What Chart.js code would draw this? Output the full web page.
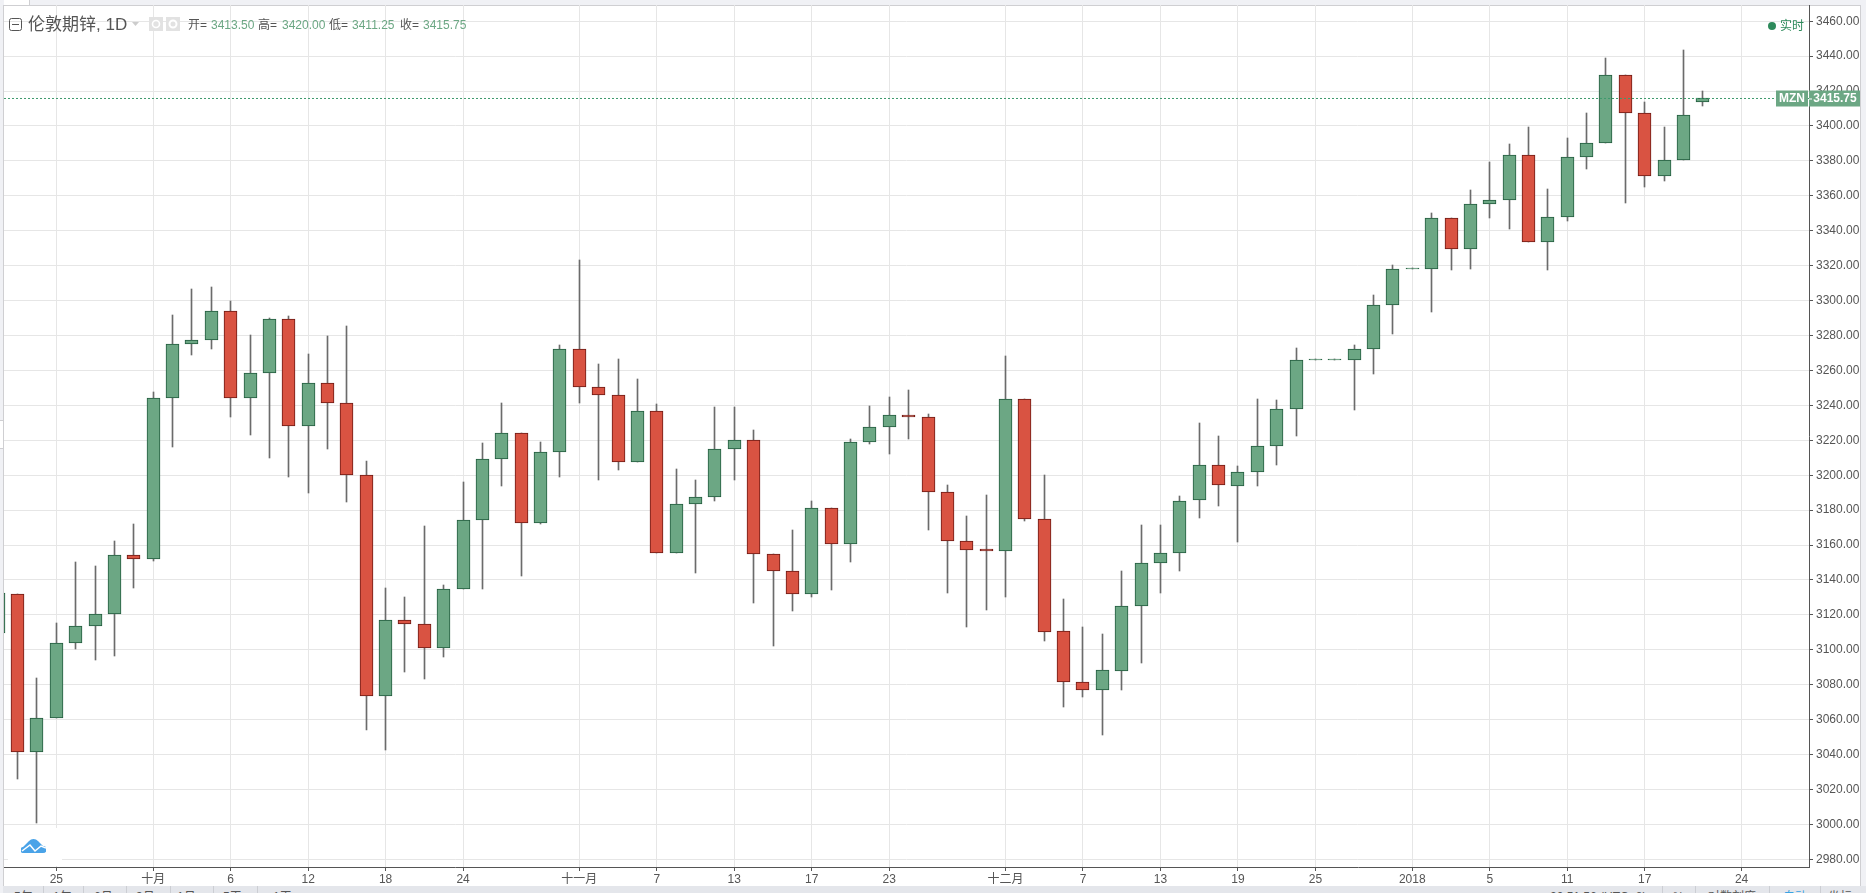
<!DOCTYPE html>
<html>
<head>
<meta charset="utf-8">
<title>伦敦期锌</title>
<script src="https://cdn.jsdelivr.net/npm/chart.js@4"></script>
<style>
  html, body { margin: 0; padding: 0; width: 1866px; height: 893px; overflow: hidden; background: #f0f1f5; }
  body, div, span { font-family: "Liberation Sans", "Noto Sans CJK SC", sans-serif; }
  #frame { position: absolute; left: 3px; top: 5px; width: 1856px; height: 880px; background: #fff; border: 1px solid #cfcfd2; }
  #chartBox { position: absolute; left: 0; top: 0; }
  .abs { position: absolute; white-space: nowrap; }
  #bottomBar { position: absolute; left: 3px; top: 886px; width: 1863px; height: 7px; background: #e4e6eb; overflow: hidden; }
  #bottomBar span { position: absolute; top: 4px; font-size: 12px; line-height: 14px; color: #555; white-space: nowrap; }
  #bottomBar i { position: absolute; top: 0; width: 1px; height: 7px; background: #ccced3; }
</style>
</head>
<body>
<div id="frame"></div>
<div class="abs" style="left:4px;top:0;width:25px;height:5px;background:#fff;border-right:1px solid #cfcfd2"></div>
<div class="abs" style="left:0;top:420px;width:3px;height:27px;background:#fff;border:1px solid #cfcfd2;border-left:0"></div>
<canvas id="chartBox" width="1866" height="893"></canvas>

<div class="abs" style="left:8px;top:828px;width:54px;height:38px;background:#fff"></div>
<svg class="abs" style="left:21px;top:838px" width="25" height="15" viewBox="0 0 25 15">
  <path d="M3 15a3 3 0 0 1-1-6L8 3a6 6 0 0 1 9 0l5 5a3.5 3.5 0 0 1 0 7z" fill="#4aa3e8"/>
  <polyline points="1,13 9,7 14,13 20,8 25,10" fill="none" stroke="#fff" stroke-width="1.5"/>
</svg>

<!-- cabecalho -->
<svg class="abs" style="left:9px;top:18px" width="14" height="14"><rect x="0.5" y="0.5" width="12" height="12" rx="2" fill="none" stroke="#555"/><line x1="3" y1="6.5" x2="10" y2="6.5" stroke="#555"/></svg>
<div class="abs" style="left:28px;top:15px;font-size:17px;line-height:20px;color:#555">伦敦期锌, 1D</div>
<svg class="abs" style="left:132px;top:22px" width="8" height="5"><polygon points="0,0 7,0 3.5,4" fill="#ccc"/></svg>
<div class="abs" style="left:149px;top:17px;width:14px;height:14px;background:#e2e2e2"></div>
<div class="abs" style="left:166px;top:17px;width:14px;height:14px;background:#e2e2e2"></div>
<svg class="abs" style="left:149px;top:17px" width="31" height="14"><circle cx="7" cy="7" r="3.5" fill="none" stroke="#fff" stroke-width="1.6"/><circle cx="24" cy="7" r="3.5" fill="none" stroke="#fff" stroke-width="2"/></svg>
<div id="ohlc"></div>
<div class="abs" style="left:1768px;top:22px;width:8px;height:8px;border-radius:50%;background:#2d8a5b"></div>
<div class="abs" style="left:1780px;top:18px;font-size:12px;line-height:16px;color:#2d8a5b">实时</div>

<div id="bottomBar"></div>

<script>
  // pregoes desenhados, o primeiro fica cortado pela borda esquerda
  const opens = [3109.6, 3132, 3041.5, 3061, 3104, 3113.7, 3120.6, 3154.3, 3152, 3244, 3274.9, 3277.7, 3294.3, 3244, 3258.3, 3289.3, 3228, 3252.6, 3241.1, 3200,
    3073.7, 3117.1, 3114.9, 3101.1, 3134.9, 3174.3, 3209.1, 3224, 3172.4, 3213.1, 3272, 3250.8, 3246.2, 3207.4, 3236.6, 3155.5, 3183.4, 3187.4, 3214.9, 3220,
    3154.8, 3145.1, 3132, 3181, 3160.6, 3218.9, 3227.4, 3234.3, 3233.2, 3190.3, 3162.3, 3157.8, 3156.6, 3243.4, 3174.9, 3110.5, 3081.8, 3077, 3087.9, 3125.1,
    3149.5, 3155.2, 3185.6, 3205.9, 3193.8, 3201.9, 3217, 3237.9, 3265.9, 3265.9, 3265.9, 3272.2, 3297.3, 3317.9, 3317.9, 3347.1, 3329.3, 3355.6, 3357.9, 3383.6,
    3333.3, 3347.6, 3382.5, 3390, 3429.1, 3407.6, 3371.6, 3380.8, 3413.5];
  const closes = [3132.4, 3041.5, 3061, 3104, 3113.7, 3120.6, 3154.3, 3152, 3244, 3274.9, 3277.7, 3294.3, 3244, 3258.3, 3289.3, 3228, 3252.6, 3241.1, 3200, 3073.7,
    3117.1, 3114.9, 3101.1, 3134.9, 3174.3, 3209.1, 3224, 3172.4, 3213.1, 3272, 3250.8, 3246.2, 3207.4, 3236.6, 3155.5, 3183.4, 3187.4, 3214.9, 3220, 3154.8,
    3145.1, 3132, 3181, 3160.6, 3218.9, 3227.4, 3234.3, 3233.2, 3190.3, 3162.3, 3157.2, 3156.8, 3243.4, 3174.9, 3110.2, 3081.8, 3077, 3088.7, 3125.1, 3149.5,
    3155.2, 3185.1, 3205.9, 3194.4, 3201.9, 3216.9, 3237.9, 3265.9, 3266.4, 3266.4, 3272.2, 3297.3, 3317.9, 3318.4, 3347.1, 3329.3, 3355.6, 3357.9, 3383.6, 3333.3,
    3347.6, 3382.5, 3390, 3429.1, 3407.6, 3371.6, 3380.8, 3406.5, 3415.75];
  const highs = [3132.4, 3132, 3083.6, 3115.6, 3150, 3148.2, 3162.5, 3172, 3247.4, 3291.6, 3306.5, 3307.6, 3299.6, 3280.2, 3289.9, 3291.1, 3269.4, 3279.6, 3285.3, 3208.2,
    3135.6, 3130.5, 3171, 3137.3, 3196.2, 3218.5, 3241.3, 3224, 3219, 3274.5, 3323, 3263.6, 3266.5, 3255, 3240.8, 3203.6, 3197.3, 3239, 3239, 3225.9,
    3154.8, 3168.7, 3185.4, 3181, 3220.8, 3239.6, 3244.8, 3248.8, 3235, 3194.5, 3176.8, 3188.4, 3268.1, 3243.4, 3200, 3128.9, 3113, 3109, 3145.3, 3171.4,
    3171.4, 3188.2, 3230.1, 3222.7, 3205, 3243.8, 3243.2, 3273, 3265.9, 3265.9, 3274.7, 3303.2, 3320.4, 3317.9, 3350, 3347.1, 3363.2, 3379.3, 3389.5, 3399.2,
    3363.8, 3393, 3407.3, 3439, 3429.1, 3414, 3399.2, 3443.6, 3420];
  const lows = [3109.6, 3025.9, 3001, 3061, 3100.4, 3094, 3096.4, 3135.2, 3151, 3216.4, 3269, 3272.4, 3233.5, 3223.2, 3210, 3199.2, 3190, 3215, 3184.4, 3054.1,
    3042.7, 3087.3, 3083.2, 3095.8, 3134.9, 3135, 3194, 3142, 3171.8, 3198.7, 3241.3, 3197, 3203.2, 3207.4, 3155.5, 3155.5, 3143.8, 3185.5, 3197, 3126.6,
    3102.3, 3122.5, 3130.3, 3134, 3150.3, 3218, 3212.4, 3221, 3168.4, 3132.4, 3113, 3122.7, 3130, 3173.6, 3105, 3067.5, 3073, 3051.2, 3077, 3092.7,
    3132.8, 3145, 3175.5, 3182.4, 3161.7, 3194, 3205.7, 3222.3, 3265.9, 3265.9, 3237.1, 3257.7, 3281, 3317.9, 3293.7, 3317.7, 3318.3, 3347.4, 3341.1, 3333.3,
    3317.7, 3345.7, 3375.4, 3390, 3356, 3365.1, 3368.6, 3380.8, 3411.25];

  const xTickSlots = [3, 8, 12, 16, 20, 24, 30, 34, 38, 42, 46, 52, 56, 60, 64, 68, 73, 77, 81, 85, 90];
  const xTickLabels = ['25', '十月', '6', '12', '18', '24', '十一月', '7', '13', '17', '23', '十二月', '7', '13', '19', '25', '2018', '5', '11', '17', '24'];
  const yTicks = [2980, 3000, 3020, 3040, 3060, 3080, 3100, 3120, 3140, 3160, 3180, 3200, 3220, 3240, 3260, 3280, 3300, 3320, 3340, 3360, 3380, 3400, 3420, 3440, 3460];
  const symbol = 'MZN';

  const lastIdx = closes.length - 1;
  const lastClose = closes[lastIdx];
  const xMin = 0.3, xMax = 93.48, yMin = 2975.6, yMax = 3469.3;

  const upFill = '#6ca784', upLine = '#225b3e';
  const downFill = '#d95342', downLine = '#6d1a14';
  const labelFont = '"Liberation Sans", "Noto Sans CJK SC", sans-serif';

  // linha do cabecalho com os valores do ultimo pregao
  const ohlcText = [
    ['开=', 188, null], [opens[lastIdx], 211, 'v'],
    ['高=', 258, null], [highs[lastIdx], 282, 'v'],
    ['低=', 329, null], [lows[lastIdx], 352, 'v'],
    ['收=', 400, null], [lastClose, 423, 'v']
  ];
  ohlcText.forEach(([txt, left, kind]) => {
    const el = document.createElement('div');
    el.className = 'abs';
    el.style.cssText = `left:${left}px;top:17px;font-size:12px;line-height:16px;color:${kind ? upFill : '#555'}`;
    el.textContent = kind ? txt.toFixed(2) : txt;
    document.getElementById('ohlc').appendChild(el);
  });

  // barra de baixo, cortada pela janela
  const bottomBar = document.getElementById('bottomBar');
  [['5年', 11], ['1年', 50], ['6月', 91], ['3月', 133], ['1月', 174], ['5天', 220], ['1天', 270],
   ['20:51:56 (UTC+8)', 1547], ['%', 1670], ['对数刻度', 1705], ['自动', 1780], ['坐标', 1825]].forEach(([txt, left]) => {
    const s = document.createElement('span');
    s.textContent = txt;
    s.style.left = left + 'px';
    if (txt === '自动') s.style.color = '#3aa3e3';
    bottomBar.appendChild(s);
  });
  [40, 80, 123, 167, 210, 254, 1659, 1692, 1766, 1817].forEach(left => {
    const sep = document.createElement('i');
    sep.style.left = left + 'px';
    bottomBar.appendChild(sep);
  });

  // alinha as barras ao pixel para as bordas ficarem nitidas
  const snapBars = {
    id: 'snapBars',
    beforeDatasetsDraw(chart) {
      chart.data.datasets.forEach((ds, i) => {
        if (ds.type === 'line') return;
        chart.getDatasetMeta(i).data.forEach(bar => {
          bar.x = Math.floor(bar.x) + 0.5;
          bar.y = Math.round(bar.y);
          bar.base = Math.round(bar.base);
          if (bar.y === bar.base) bar.y -= 1;
        });
      });
    }
  };

  // etiquetas MZN e preco atual por cima do eixo
  const lastPriceTag = {
    id: 'lastPriceTag',
    afterDraw(chart) {
      const ctx = chart.ctx;
      const right = chart.chartArea.right;
      const y = chart.scales.y.getPixelForValue(lastClose);
      ctx.save();
      ctx.fillStyle = upFill;
      ctx.fillRect(right - 33, y - 8, 32, 16);
      ctx.fillRect(right, y - 8, 51, 16);
      ctx.fillStyle = '#fff';
      ctx.font = 'bold 12px ' + labelFont;
      ctx.textAlign = 'center';
      ctx.textBaseline = 'middle';
      ctx.fillText(symbol, right - 17, y + 0.5);
      ctx.fillText(lastClose.toFixed(2), right + 26, y + 0.5);
      ctx.strokeStyle = '#fff';
      ctx.beginPath();
      ctx.moveTo(right, y + 0.5);
      ctx.lineTo(right + 3, y + 0.5);
      ctx.stroke();
      ctx.restore();
    }
  };

  const ctx = document.getElementById('chartBox').getContext('2d');
  const chart = new Chart(ctx, {
    type: 'bar',
    data: {
      datasets: [
        {
          type: 'line',
          order: 0,
          data: [{ x: xMin, y: lastClose }, { x: xMax, y: lastClose }],
          borderColor: '#3f9a6e',
          borderWidth: 1,
          borderDash: [2, 2],
          pointRadius: 0
        },
        {
          order: 1,
          grouped: false,
          barThickness: 13,
          borderWidth: 1,
          borderSkipped: false,
          data: opens.map((o, i) => ({ x: i, y: [o, closes[i]] })),
          backgroundColor: opens.map((o, i) => closes[i] >= o ? upFill : downFill),
          borderColor: opens.map((o, i) => closes[i] >= o ? upLine : downLine)
        },
        {
          order: 2,
          grouped: false,
          barThickness: 1,
          borderWidth: 0,
          data: lows.map((l, i) => ({ x: i, y: [l, highs[i]] })),
          backgroundColor: '#6b6b6b'
        }
      ]
    },
    options: {
      responsive: false,
      animation: false,
      devicePixelRatio: 1,
      layout: { padding: { left: 4, top: 5, right: 0, bottom: 0 } },
      plugins: {
        legend: { display: false },
        tooltip: { enabled: false }
      },
      scales: {
        x: {
          type: 'linear',
          offset: false,
          min: xMin,
          max: xMax,
          afterBuildTicks: axis => { axis.ticks = xTickSlots.map(v => ({ value: v })); },
          afterFit: axis => { axis.height = 26; axis.paddingLeft = 0; axis.paddingRight = 0; },
          grid: { offset: false, color: '#e6e6e6', lineWidth: 1, tickColor: '#555', tickLength: 4 },
          border: { color: '#555', width: 1 },
          ticks: {
            autoSkip: false,
            maxRotation: 0,
            padding: 1,
            color: '#555',
            font: { size: 12, family: labelFont },
            callback: value => xTickLabels[xTickSlots.indexOf(value)]
          }
        },
        y: {
          position: 'right',
          min: yMin,
          max: yMax,
          afterBuildTicks: axis => { axis.ticks = yTicks.map(v => ({ value: v })); },
          afterFit: axis => { axis.width = 57; axis.paddingTop = 0; axis.paddingBottom = 0; },
          grid: { color: '#e6e6e6', lineWidth: 1, tickColor: '#555', tickLength: 4 },
          border: { color: '#555', width: 1 },
          ticks: {
            padding: 3,
            color: '#555',
            font: { size: 12, family: labelFont },
            callback: value => value.toFixed(2)
          }
        }
      }
    },
    plugins: [snapBars, lastPriceTag]
  });
</script>
</body>
</html>
